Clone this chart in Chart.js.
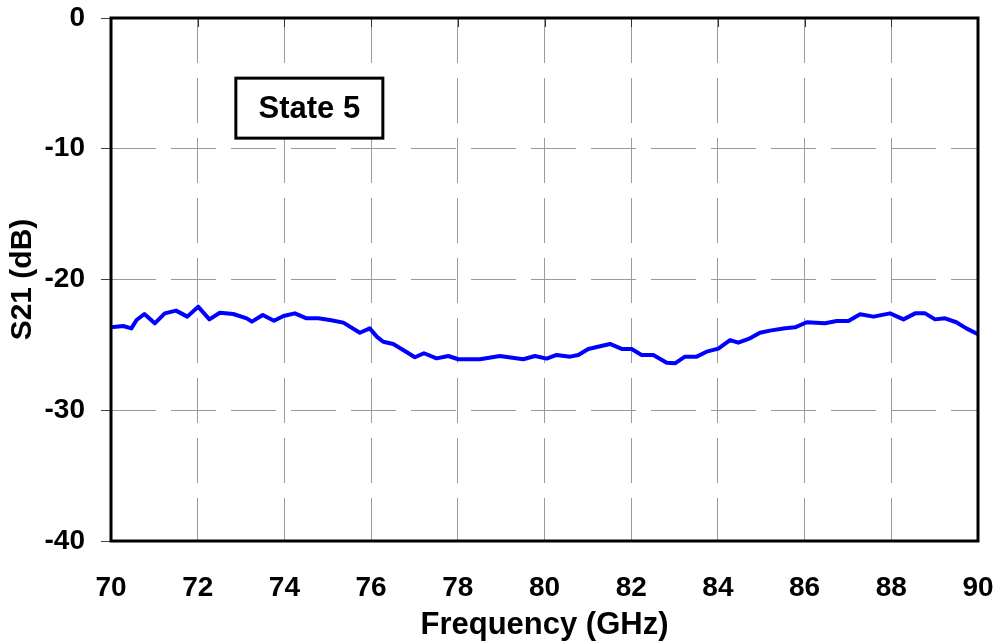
<!DOCTYPE html>
<html>
<head>
<meta charset="utf-8">
<script src="https://cdn.jsdelivr.net/npm/chart.js@4.4.1/dist/chart.umd.min.js"></script>
<style>
  html, body { margin: 0; padding: 0; background: #fff; }
  #wrap { width: 1000px; height: 644px; position: relative; }
</style>
</head>
<body>
<div id="wrap"><canvas id="s21Chart"></canvas></div>
<script>
const freq = [70.00, 70.28, 70.47, 70.59, 70.77, 71.01, 71.24, 71.50, 71.76, 72.01,
  72.27, 72.51, 72.82, 73.13, 73.25, 73.50, 73.76, 73.98, 74.24, 74.51,
  74.78, 75.05, 75.36, 75.74, 75.97, 76.13, 76.28, 76.51, 76.74, 77.01,
  77.22, 77.51, 77.78, 78.01, 78.51, 78.97, 79.51, 79.78, 80.05, 80.28,
  80.59, 80.78, 81.01, 81.51, 81.78, 82.01, 82.24, 82.51, 82.82, 83.01,
  83.24, 83.51, 83.74, 84.01, 84.28, 84.47, 84.74, 84.97, 85.20, 85.55,
  85.78, 86.05, 86.47, 86.74, 87.01, 87.28, 87.59, 87.97, 88.28, 88.55,
  88.78, 89.01, 89.24, 89.50, 89.73, 90.00];
const s21 = [-23.66, -23.56, -23.74, -23.10, -22.64, -23.35, -22.59, -22.38, -22.84, -22.08,
  -23.05, -22.54, -22.64, -22.97, -23.22, -22.71, -23.15, -22.79, -22.59, -22.97,
  -22.97, -23.10, -23.30, -24.07, -23.74, -24.37, -24.76, -24.93, -25.39, -25.95,
  -25.64, -26.03, -25.85, -26.10, -26.10, -25.85, -26.10, -25.85, -26.05, -25.77,
  -25.90, -25.77, -25.31, -24.93, -25.31, -25.31, -25.77, -25.77, -26.36, -26.41,
  -25.90, -25.90, -25.52, -25.29, -24.63, -24.83, -24.50, -24.07, -23.91, -23.73,
  -23.66, -23.27, -23.35, -23.17, -23.17, -22.66, -22.84, -22.59, -23.05, -22.59,
  -22.59, -23.05, -22.97, -23.27, -23.74, -24.19];

const xTicks = [70, 72, 74, 76, 78, 80, 82, 84, 86, 88, 90];
const yTicks = [0, -10, -20, -30, -40];
const legendText = 'State 5';

const FONT = '"Liberation Sans", Arial, Helvetica, sans-serif';
const GRID = '#9a9a9a';

const points = freq.map((f, i) => ({ x: f, y: s21[i] }));

// frame, inner top ticks and the legend box
const framePlugin = {
  id: 'frame',
  afterDraw(chart) {
    const { ctx, chartArea: a, scales } = chart;
    ctx.save();
    // small dark ticks hanging from the top edge
    ctx.strokeStyle = '#333';
    ctx.lineWidth = 1;
    xTicks.forEach(v => {
      const px = Math.round(scales.x.getPixelForValue(v)) + 0.5;
      ctx.beginPath();
      ctx.moveTo(px, a.top);
      ctx.lineTo(px, a.top + 9);
      ctx.stroke();
    });
    // plot border
    ctx.strokeStyle = '#000';
    ctx.lineWidth = 3;
    ctx.strokeRect(a.left, a.top, a.right - a.left, a.bottom - a.top);

    // legend box
    const bx = a.left + (a.right - a.left) * 0.144;
    const by = a.top + (a.bottom - a.top) * 0.115;
    const bw = 147, bh = 60;
    ctx.fillStyle = '#fff';
    ctx.fillRect(bx, by, bw, bh);
    ctx.lineWidth = 3;
    ctx.strokeRect(bx, by, bw, bh);
    ctx.fillStyle = '#000';
    ctx.font = 'bold 31px ' + FONT;
    ctx.textAlign = 'center';
    ctx.textBaseline = 'middle';
    ctx.fillText(legendText, bx + bw / 2, by + bh / 2 + 1);
    ctx.restore();
  }
};

new Chart(document.getElementById('s21Chart'), {
  type: 'line',
  data: {
    datasets: [{
      label: legendText,
      data: points,
      borderColor: '#0000ff',
      borderWidth: 4,
      borderJoinStyle: 'round',
      borderCapStyle: 'round',
      pointRadius: 0,
      tension: 0,
      fill: false
    }]
  },
  options: {
    responsive: true,
    maintainAspectRatio: false,
    animation: false,
    layout: { padding: { left: 0, right: 22, top: 18, bottom: 0 } },
    plugins: {
      legend: { display: false },
      tooltip: { enabled: false }
    },
    scales: {
      x: {
        type: 'linear',
        min: 70,
        max: 90,
        afterBuildTicks: s => { s.ticks = xTicks.map(v => ({ value: v })); },
        afterFit: s => {
          s.height = 103;
          s.paddingLeft = 0;
          s.paddingRight = 0;
        },
        ticks: {
          autoSkip: false,
          maxRotation: 0,
          padding: 30,
          color: '#000',
          font: { family: FONT, size: 28, weight: 'bold' }
        },
        grid: {
          color: GRID,
          lineWidth: 1,
          drawTicks: false
        },
        border: { display: false, dash: [45, 15] },
        title: {
          display: true,
          text: 'Frequency (GHz)',
          color: '#000',
          font: { family: FONT, size: 31, weight: 'bold' },
          padding: { top: 0, bottom: 0 }
        }
      },
      y: {
        min: -40,
        max: 0,
        afterBuildTicks: s => { s.ticks = yTicks.map(v => ({ value: v })); },
        afterFit: s => {
          s.width = 111;
          s.paddingTop = 0;
          s.paddingBottom = 0;
        },
        ticks: {
          autoSkip: false,
          padding: 16,
          color: '#000',
          font: { family: FONT, size: 28, weight: 'bold' }
        },
        grid: {
          color: GRID,
          lineWidth: 1,
          tickLength: 10,
          tickColor: '#444'
        },
        border: { display: false, dash: [45, 15] },
        title: {
          display: true,
          text: 'S21 (dB)',
          color: '#000',
          font: { family: FONT, size: 30, weight: 'bold' },
          padding: { top: 5, bottom: 0 }
        }
      }
    }
  },
  plugins: [framePlugin]
});
</script>
</body>
</html>
